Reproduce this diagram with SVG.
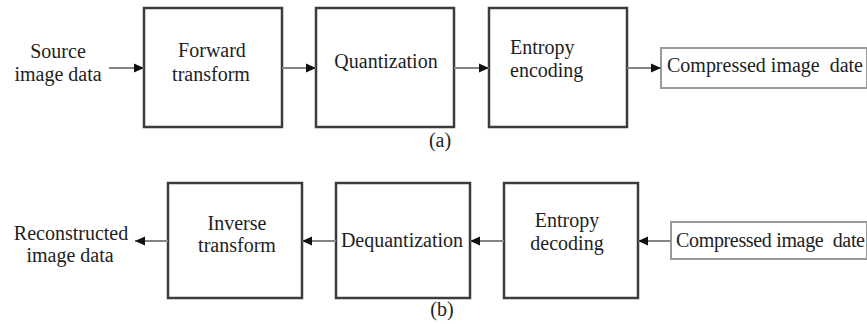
<svg xmlns="http://www.w3.org/2000/svg" width="867" height="324" viewBox="0 0 867 324">
<style>
text{font-family:"Liberation Serif","Times New Roman",serif;font-size:20px;fill:#1e1e1e}
.box{fill:#fff;stroke:#3c3c3c;stroke-width:2.5}
.out{fill:#fff;stroke:#9a9a9a;stroke-width:2}
.c{stroke:#858585;stroke-width:2;fill:none;marker-end:url(#ah)}
</style>
<defs>
<marker id="ah" markerUnits="userSpaceOnUse" markerWidth="10" markerHeight="10" refX="10" refY="5" orient="auto">
<path d="M0,0.5 L10,5 L0,9.5 z" fill="#111"/>
</marker>
</defs>
<rect width="867" height="324" fill="#fff"/>
<g id="src"><text x="58" y="58" text-anchor="middle">Source</text><text x="58" y="81" text-anchor="middle">image data</text></g>
<g id="fwd"><rect class="box" x="144" y="8" width="138" height="119"/><text x="212" y="57" text-anchor="middle">Forward</text><text x="211" y="81" text-anchor="middle">transform</text></g>
<g id="quant"><rect class="box" x="316" y="8" width="138" height="119"/><text x="386" y="68" text-anchor="middle">Quantization</text></g>
<g id="enc"><rect class="box" x="489" y="8" width="138" height="119"/><text x="510" y="54">Entropy</text><text x="510" y="77">encoding</text></g>
<g id="cmp1"><rect class="out" x="661" y="48" width="206" height="40"/><text x="667" y="72" textLength="196" xml:space="preserve">Compressed image  date</text></g>
<text x="440" y="147" text-anchor="middle">(a)</text>
<g id="rec"><text x="71" y="240" text-anchor="middle">Reconstructed</text><text x="70" y="262" text-anchor="middle">image data</text></g>
<g id="inv"><rect class="box" x="168" y="183" width="134" height="115"/><text x="237" y="230" text-anchor="middle">Inverse</text><text x="237" y="252" text-anchor="middle">transform</text></g>
<g id="deq"><rect class="box" x="336" y="183" width="134" height="115"/><text x="402" y="247" text-anchor="middle">Dequantization</text></g>
<g id="dec"><rect class="box" x="504" y="183" width="134" height="115"/><text x="567" y="227" text-anchor="middle">Entropy</text><text x="567" y="250" text-anchor="middle">decoding</text></g>
<g id="cmp2"><rect class="out" x="671" y="222" width="196" height="37"/><text x="676" y="247" textLength="189" xml:space="preserve">Compressed image  date</text></g>
<text x="442" y="316" text-anchor="middle">(b)</text>
<g id="connectors">
<line class="c" x1="109" y1="68" x2="144" y2="68"/>
<line class="c" x1="282" y1="68" x2="316" y2="68"/>
<line class="c" x1="454" y1="68" x2="489" y2="68"/>
<line class="c" x1="627" y1="68" x2="661" y2="68"/>
<line class="c" x1="671" y1="241" x2="638" y2="241"/>
<line class="c" x1="504" y1="241" x2="470" y2="241"/>
<line class="c" x1="336" y1="241" x2="302" y2="241"/>
<line class="c" x1="168" y1="241" x2="135" y2="241"/>
</g>
</svg>
